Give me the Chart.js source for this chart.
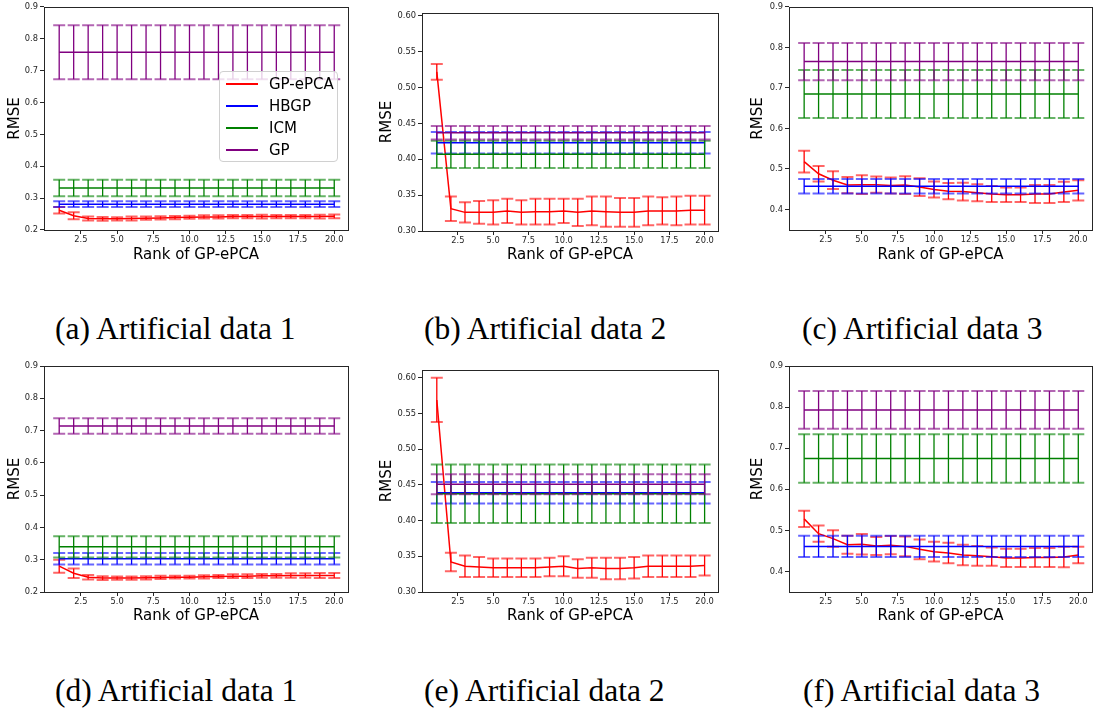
<!DOCTYPE html>
<html>
<head>
<meta charset="utf-8">
<script src="https://cdn.jsdelivr.net/npm/chart.js@4.4.0/dist/chart.umd.min.js"></script>
<style>
  body { margin: 0; background: #fff; width: 1094px; height: 711px; overflow: hidden; position: relative; }
  .panel { position: absolute; }
  .caption { position: absolute; font-family: "Liberation Serif", serif; font-size: 31.5px; line-height: 31.5px; color: #000; white-space: nowrap; }
  .legend { position: absolute; left: 219px; top: 71px; width: 119px; height: 91px; box-sizing: border-box;
            border: 1px solid #d0d0d0; border-radius: 4px; background: rgba(255,255,255,0.8);
            font-family: "DejaVu Sans", sans-serif; font-size: 15px; color: #000; }
  .legend div { position: absolute; left: 0; height: 18px; line-height: 18px; }
  .legend span.mark { position: absolute; left: 6px; top: 8px; width: 32px; height: 2px; }
  .legend span.txt { position: absolute; left: 49px; top: 0; }
</style>
</head>
<body>
<script>
// x axis: rank of GP-ePCA
const ranks = [1, 2, 3, 4, 5, 6, 7, 8, 9, 10, 11, 12, 13, 14, 15, 16, 17, 18, 19, 20];
const xTicks = [2.5, 5.0, 7.5, 10.0, 12.5, 15.0, 17.5, 20.0];

const seriesNames = ['GP-ePCA', 'HBGP', 'ICM', 'GP'];
const seriesColors = ['#ff0000', '#0000ff', '#008000', '#800080'];

const yTicksA = [0.2, 0.3, 0.4, 0.5, 0.6, 0.7, 0.8, 0.9];
const yTicksB = [0.30, 0.35, 0.40, 0.45, 0.50, 0.55, 0.60];
const yTicksC = [0.4, 0.5, 0.6, 0.7, 0.8, 0.9];

// GP-ePCA mean / error per rank; baselines (HBGP, ICM, GP) are flat, one value each
const epcaA = [0.262, 0.245, 0.236, 0.235, 0.235, 0.236, 0.237, 0.238, 0.239, 0.240, 0.241, 0.241, 0.242, 0.242, 0.242, 0.242, 0.242, 0.242, 0.242, 0.243];
const epcaErrA = [0.010, 0.011, 0.006, 0.006, 0.005, 0.006, 0.005, 0.005, 0.005, 0.005, 0.005, 0.005, 0.005, 0.005, 0.006, 0.005, 0.005, 0.005, 0.006, 0.006];
const baseA = [0.281, 0.332, 0.758];
const baseErrA = [0.009, 0.026, 0.085];

const epcaB = [0.522, 0.331, 0.326, 0.326, 0.326, 0.328, 0.326, 0.327, 0.327, 0.328, 0.326, 0.328, 0.327, 0.326, 0.326, 0.328, 0.328, 0.328, 0.329, 0.329];
const epcaErrB = [0.011, 0.017, 0.014, 0.016, 0.017, 0.017, 0.017, 0.018, 0.018, 0.017, 0.019, 0.020, 0.021, 0.020, 0.020, 0.020, 0.019, 0.020, 0.020, 0.020];
const baseB = [0.423, 0.407, 0.437];
const baseErrB = [0.015, 0.019, 0.0095];

const epcaC = [0.518, 0.488, 0.472, 0.460, 0.461, 0.461, 0.459, 0.460, 0.455, 0.449, 0.445, 0.444, 0.441, 0.438, 0.436, 0.436, 0.438, 0.438, 0.443, 0.447];
const epcaErrC = [0.027, 0.019, 0.022, 0.020, 0.023, 0.020, 0.020, 0.022, 0.022, 0.020, 0.020, 0.022, 0.021, 0.020, 0.018, 0.018, 0.022, 0.022, 0.025, 0.025];
const baseC = [0.457, 0.685, 0.765];
const baseErrC = [0.018, 0.059, 0.046];

const epcaD = [0.280, 0.258, 0.246, 0.243, 0.243, 0.243, 0.244, 0.245, 0.246, 0.246, 0.247, 0.248, 0.249, 0.249, 0.250, 0.250, 0.251, 0.251, 0.251, 0.251];
const epcaErrD = [0.020, 0.015, 0.007, 0.006, 0.005, 0.005, 0.005, 0.005, 0.004, 0.004, 0.005, 0.005, 0.006, 0.006, 0.006, 0.006, 0.007, 0.007, 0.008, 0.008];
const baseD = [0.303, 0.340, 0.714];
const baseErrD = [0.018, 0.033, 0.024];

const epcaE = [0.569, 0.342, 0.336, 0.335, 0.334, 0.334, 0.334, 0.334, 0.335, 0.336, 0.333, 0.334, 0.333, 0.333, 0.334, 0.336, 0.336, 0.336, 0.336, 0.337];
const epcaErrE = [0.031, 0.013, 0.015, 0.014, 0.013, 0.013, 0.013, 0.013, 0.013, 0.014, 0.013, 0.014, 0.015, 0.015, 0.015, 0.015, 0.015, 0.015, 0.015, 0.014];
const baseE = [0.439, 0.4375, 0.451];
const baseErrE = [0.015, 0.041, 0.014];

const epcaF = [0.528, 0.492, 0.480, 0.465, 0.466, 0.462, 0.464, 0.461, 0.454, 0.448, 0.445, 0.440, 0.438, 0.436, 0.433, 0.433, 0.434, 0.434, 0.435, 0.440];
const epcaErrF = [0.020, 0.020, 0.020, 0.022, 0.025, 0.022, 0.022, 0.024, 0.024, 0.024, 0.025, 0.025, 0.024, 0.022, 0.022, 0.022, 0.023, 0.023, 0.025, 0.020];
const baseF = [0.461, 0.675, 0.793];
const baseErrF = [0.026, 0.059, 0.046];

const captions = ['(a) Artificial data 1', '(b) Artificial data 2', '(c) Artificial data 3',
                  '(d) Artificial data 1', '(e) Artificial data 2', '(f) Artificial data 3'];

// vertical error bars with caps, drawn right after each dataset's line
const errorBars = {
    id: 'errorBars',
    afterDatasetDraw(chart, args) {
        const ds = chart.data.datasets[args.index];
        if (!ds.errors) return;
        const ctx = chart.ctx, x = chart.scales.x, y = chart.scales.y, a = chart.chartArea;
        ctx.save();
        ctx.beginPath();
        ctx.rect(a.left, a.top, a.right - a.left, a.bottom - a.top);
        ctx.clip();
        ctx.strokeStyle = ds.borderColor;
        ds.data.forEach((p, i) => {
            const px = x.getPixelForValue(p.x);
            const hi = y.getPixelForValue(p.y + ds.errors[i]);
            const lo = y.getPixelForValue(p.y - ds.errors[i]);
            ctx.globalAlpha = 1;
            ctx.lineWidth = 1.3;
            ctx.beginPath();
            ctx.moveTo(px, hi);
            ctx.lineTo(px, lo);
            ctx.stroke();
            ctx.globalAlpha = 0.6;
            ctx.lineWidth = 2;
            ctx.beginPath();
            ctx.moveTo(px - 6, hi); ctx.lineTo(px + 6, hi);
            ctx.moveTo(px - 6, lo); ctx.lineTo(px + 6, lo);
            ctx.stroke();
        });
        ctx.restore();
    }
};

// box around the plot area
const frame = {
    id: 'frame',
    afterDatasetsDraw(chart) {
        const ctx = chart.ctx, a = chart.chartArea;
        ctx.save();
        ctx.strokeStyle = '#262626';
        ctx.lineWidth = 1;
        ctx.strokeRect(Math.round(a.left) + 0.5, Math.round(a.top) + 0.5,
                       Math.round(a.right - a.left), Math.round(a.bottom - a.top));
        ctx.restore();
    }
};

function makeDatasets(epca, epcaErr, base, baseErr) {
    const sets = [{
        label: seriesNames[0],
        data: ranks.map((r, i) => ({x: r, y: epca[i]})),
        errors: epcaErr,
        borderColor: seriesColors[0],
        order: 4
    }];
    base.forEach((v, k) => {
        sets.push({
            label: seriesNames[k + 1],
            data: ranks.map(r => ({x: r, y: v})),
            errors: ranks.map(() => baseErr[k]),
            borderColor: seriesColors[k + 1],
            order: 3 - k
        });
    });
    sets.forEach(s => {
        s.borderWidth = 1.5;
        s.pointRadius = 0;
        s.tension = 0;
        s.fill = false;
    });
    return sets;
}

const panels = [
    {sets: makeDatasets(epcaA, epcaErrA, baseA, baseErrA), yMin: 0.2, yMax: 0.9, yTicks: yTicksA, dec: 1},
    {sets: makeDatasets(epcaB, epcaErrB, baseB, baseErrB), yMin: 0.3, yMax: 0.604, yTicks: yTicksB, dec: 2},
    {sets: makeDatasets(epcaC, epcaErrC, baseC, baseErrC), yMin: 0.349, yMax: 0.9, yTicks: yTicksC, dec: 1},
    {sets: makeDatasets(epcaD, epcaErrD, baseD, baseErrD), yMin: 0.2, yMax: 0.9, yTicks: yTicksA, dec: 1},
    {sets: makeDatasets(epcaE, epcaErrE, baseE, baseErrE), yMin: 0.3, yMax: 0.611, yTicks: yTicksB, dec: 2},
    {sets: makeDatasets(epcaF, epcaErrF, baseF, baseErrF), yMin: 0.35, yMax: 0.9, yTicks: yTicksC, dec: 1}
];

// canvas placement: left, top, width, height, y-axis width, x-axis height, pad top, pad right, y-title pad, x-title pad
const layout = [
    [0,   0,   352, 268, 44, 38, 5,  4, 6,  4],
    [360, 0,   362, 268, 62, 37, 13, 4, 18, 4],
    [730, 0,   364, 268, 59, 38, 5,  2, 19, 4],
    [0,   356, 352, 270, 44, 34, 10, 4, 6,  1],
    [360, 356, 362, 270, 62, 34, 14, 4, 18, 1],
    [730, 356, 364, 270, 59, 34, 10, 2, 19, 1]
];
const captionPos = [[55, 312.6], [424, 312.6], [802, 312.6], [55, 674.6], [424, 674.6], [803, 674.6]];

document.addEventListener('DOMContentLoaded', () => {
    Chart.defaults.font.family = '"DejaVu Sans", sans-serif';
    Chart.defaults.color = '#000';

    panels.forEach((p, n) => {
        const [cl, ct, cw, ch, yw, xh, pt, pr, ytp, xtp] = layout[n];
        const div = document.createElement('div');
        div.className = 'panel';
        div.style.left = cl + 'px';
        div.style.top = ct + 'px';
        const canvas = document.createElement('canvas');
        canvas.width = cw;
        canvas.height = ch;
        canvas.style.width = cw + 'px';
        canvas.style.height = ch + 'px';
        div.appendChild(canvas);
        document.body.appendChild(div);

        const chart = new Chart(canvas.getContext('2d'), {
            type: 'line',
            data: { datasets: p.sets },
            options: {
                responsive: false,
                animation: false,
                devicePixelRatio: 1,
                layout: { padding: { left: 0, right: pr, top: pt, bottom: 0 } },
                plugins: { legend: { display: false }, tooltip: { enabled: false } },
                scales: {
                    x: {
                        type: 'linear',
                        min: -0.05,
                        max: 20.95,
                        afterFit: (s) => { s.height = xh; },
                        afterBuildTicks: (s) => { s.ticks = xTicks.map(v => ({value: v})); },
                        ticks: {
                            callback: (v) => v.toFixed(1),
                            font: { size: 8.3 },
                            color: '#262626',
                            padding: 1,
                            maxRotation: 0,
                            autoSkip: false
                        },
                        grid: { drawOnChartArea: false, drawTicks: true, tickLength: 4, color: '#262626' },
                        border: { display: false },
                        title: { display: true, text: 'Rank of GP-ePCA', font: { size: 15 }, padding: { top: 0, bottom: xtp } }
                    },
                    y: {
                        min: p.yMin,
                        max: p.yMax,
                        afterFit: (s) => { s.width = yw; },
                        afterBuildTicks: (s) => { s.ticks = p.yTicks.map(v => ({value: v})); },
                        ticks: {
                            callback: (v) => v.toFixed(p.dec),
                            font: { size: 8.3 },
                            color: '#262626',
                            padding: 2,
                            autoSkip: false
                        },
                        grid: { drawOnChartArea: false, drawTicks: true, tickLength: 4, color: '#262626' },
                        border: { display: false },
                        title: { display: true, text: 'RMSE', font: { size: 15 }, padding: { top: ytp, bottom: 0 } }
                    }
                }
            },
            plugins: [errorBars, frame]
        });

        // legend only in the first panel, inside the plot on the right
        if (n === 0) {
            const lg = document.createElement('div');
            lg.className = 'legend';
            chart.data.datasets.forEach((ds, i) => {
                const row = document.createElement('div');
                row.style.top = (3 + i * 22) + 'px';
                row.style.width = '100%';
                row.innerHTML = `<span class="mark" style="background:${ds.borderColor}"></span><span class="txt">${ds.label}</span>`;
                lg.appendChild(row);
            });
            div.appendChild(lg);
        }

        const cap = document.createElement('div');
        cap.className = 'caption';
        cap.style.left = captionPos[n][0] + 'px';
        cap.style.top = captionPos[n][1] + 'px';
        cap.textContent = captions[n];
        document.body.appendChild(cap);
    });
});
</script>
</body>
</html>
